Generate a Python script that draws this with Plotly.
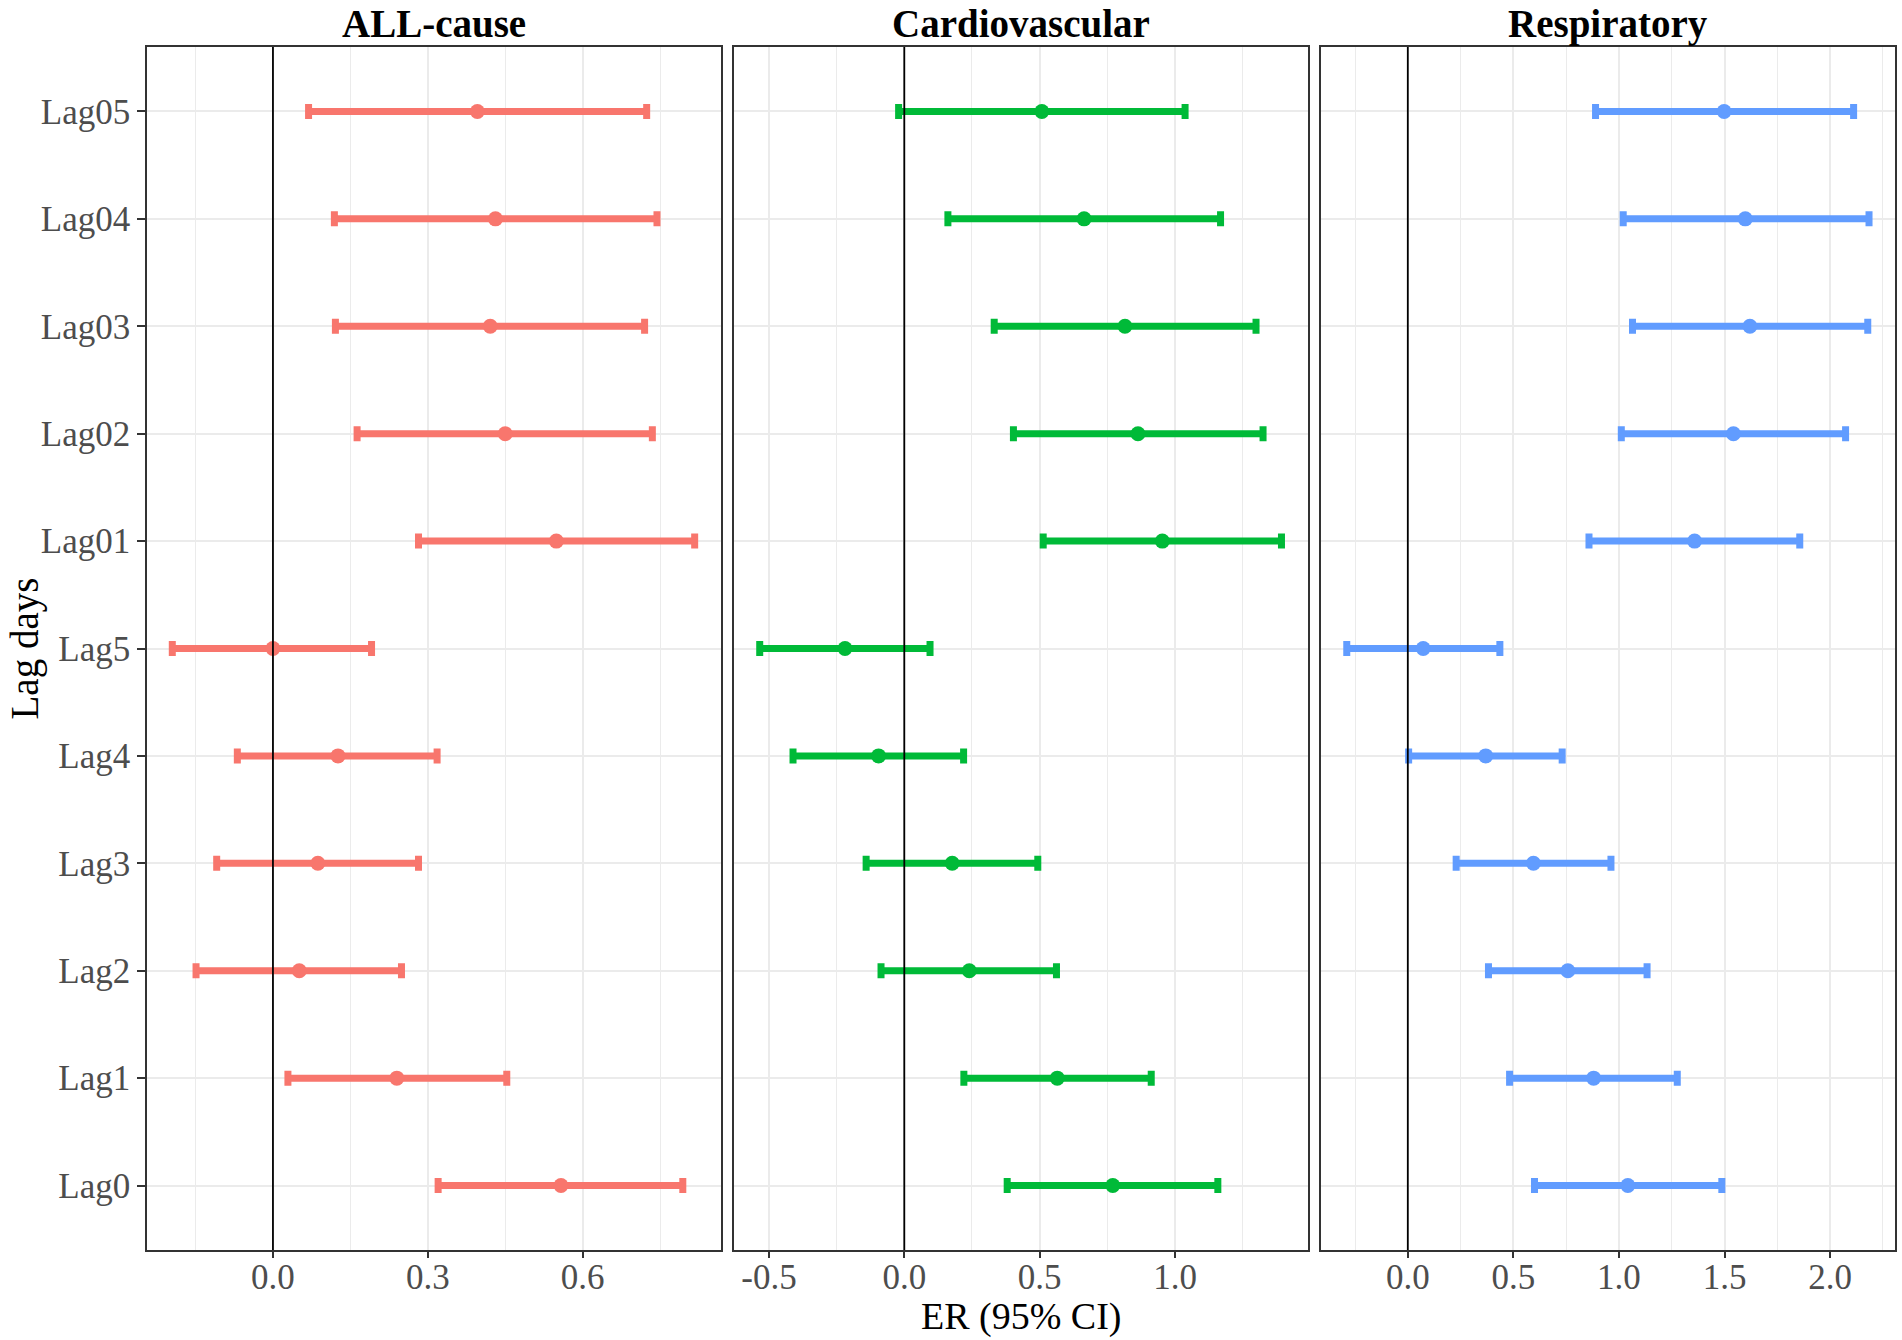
import plotly.graph_objects as go

W, H = 1902, 1340

lags = ["Lag0", "Lag1", "Lag2", "Lag3", "Lag4", "Lag5",
        "Lag01", "Lag02", "Lag03", "Lag04", "Lag05"]

panel_titles = ["ALL-cause", "Cardiovascular", "Respiratory"]
colors = ["#F8766D", "#00BA38", "#619CFF"]

# ALL-cause
all_er = [0.558, 0.240, 0.051, 0.087, 0.126, 0.000, 0.549, 0.450, 0.421, 0.431, 0.396]
all_lo = [0.320, 0.029, -0.149, -0.109, -0.069, -0.195, 0.282, 0.163, 0.121, 0.119, 0.069]
all_hi = [0.794, 0.453, 0.249, 0.282, 0.318, 0.191, 0.817, 0.735, 0.720, 0.744, 0.724]

# Cardiovascular
cvd_er = [0.770, 0.565, 0.240, 0.177, -0.095, -0.219, 0.953, 0.863, 0.815, 0.664, 0.508]
cvd_lo = [0.380, 0.220, -0.086, -0.141, -0.411, -0.534, 0.513, 0.403, 0.332, 0.161, -0.021]
cvd_hi = [1.158, 0.912, 0.562, 0.493, 0.219, 0.095, 1.393, 1.325, 1.299, 1.168, 1.037]

# Respiratory
res_er = [1.042, 0.880, 0.758, 0.595, 0.369, 0.073, 1.358, 1.542, 1.620, 1.598, 1.498]
res_lo = [0.600, 0.482, 0.382, 0.229, 0.004, -0.289, 0.858, 1.011, 1.064, 1.020, 0.889]
res_hi = [1.487, 1.276, 1.133, 0.962, 0.731, 0.436, 1.856, 2.073, 2.178, 2.184, 2.111]

x_ranges = [[-0.244, 0.868], [-0.629, 1.491], [-0.411, 2.307]]
major_ticks = [[0.0, 0.3, 0.6], [-0.5, 0.0, 0.5, 1.0], [0.0, 0.5, 1.0, 1.5, 2.0]]
major_labels = [["0.0", "0.3", "0.6"], ["-0.5", "0.0", "0.5", "1.0"],
                ["0.0", "0.5", "1.0", "1.5", "2.0"]]
minor_ticks = [[-0.15, 0.15, 0.45, 0.75], [-0.25, 0.25, 0.75, 1.25],
               [-0.25, 0.25, 0.75, 1.25, 1.75, 2.25]]

series = [(all_er, all_lo, all_hi), (cvd_er, cvd_lo, cvd_hi), (res_er, res_lo, res_hi)]

FONT = "Times New Roman, Liberation Serif, serif"
px_x = [(147, 721), (734, 1308), (1321, 1895)]
top_px, bot_px = 47, 1250
ydom = [1 - bot_px / H, 1 - top_px / H]

fig = go.Figure()
shapes = []
annotations = []
for i, (er, lo, hi) in enumerate(series):
    ax = "" if i == 0 else str(i + 1)
    fig.add_trace(go.Scatter(
        x=er, y=lags, mode="markers",
        xaxis="x" + ax, yaxis="y" + ax,
        marker=dict(size=15, color=colors[i]),
        error_x=dict(type="data", symmetric=False,
                     array=[h - e for h, e in zip(hi, er)],
                     arrayminus=[e - l for e, l in zip(er, lo)],
                     color=colors[i], thickness=7, width=7.5),
        showlegend=False, hoverinfo="skip",
    ))
    xd = [px_x[i][0] / W, px_x[i][1] / W]
    xaxis = dict(
        domain=xd, range=x_ranges[i], anchor="y" + ax,
        tickmode="array", tickvals=major_ticks[i], ticktext=major_labels[i],
        showgrid=True, gridcolor="#EBEBEB", gridwidth=1.7,
        minor=dict(tickmode="array", tickvals=minor_ticks[i], showgrid=True,
                   gridcolor="#EBEBEB", gridwidth=0.9, ticks=""),
        zeroline=False, showline=True, mirror=True, linecolor="#333333", linewidth=1.5,
        ticks="outside", ticklen=6, tickwidth=1.5, tickcolor="#333333",
        ticklabelstandoff=-11,
        tickfont=dict(family=FONT, size=35, color="#4D4D4D"),
        automargin=False, fixedrange=True,
    )
    yaxis = dict(
        domain=ydom, anchor="x" + ax, type="category",
        categoryorder="array", categoryarray=lags, range=[-0.6, 10.6],
        showgrid=True, gridcolor="#EBEBEB", gridwidth=1.7,
        zeroline=False, showline=True, mirror=True, linecolor="#333333", linewidth=1.5,
        ticks="outside" if i == 0 else "", ticklen=8, tickwidth=1.5, tickcolor="#333333",
        showticklabels=(i == 0),
        tickfont=dict(family=FONT, size=35, color="#4D4D4D"),
        automargin=False, fixedrange=True,
    )
    fig.update_layout(**{"xaxis" + ax: xaxis, "yaxis" + ax: yaxis})
    shapes.append(dict(type="line", xref="x" + ax, yref="y" + ax + " domain",
                       x0=0, x1=0, y0=0, y1=1, layer="above",
                       line=dict(color="black", width=1.8)))
    annotations.append(dict(text="<b>" + panel_titles[i] + "</b>", showarrow=False,
                            xref="paper", yref="paper",
                            x=(px_x[i][0] + px_x[i][1]) / 2 / W, y=1 - 23.5 / H,
                            xanchor="center", yanchor="middle",
                            font=dict(family=FONT, size=39, color="#000000")))

annotations.append(dict(text="ER (95% CI)", showarrow=False, xref="paper", yref="paper",
                        x=(px_x[1][0] + px_x[1][1]) / 2 / W, y=1 - 1316 / H,
                        xanchor="center", yanchor="middle",
                        font=dict(family=FONT, size=38, color="#000000")))
annotations.append(dict(text="Lag days", showarrow=False, xref="paper", yref="paper",
                        x=24 / W, y=1 - (top_px + bot_px) / 2 / H, textangle=-90,
                        xanchor="center", yanchor="middle",
                        font=dict(family=FONT, size=39, color="#000000")))

fig.update_layout(
    width=W, height=H, margin=dict(l=0, r=0, t=0, b=0),
    paper_bgcolor="white", plot_bgcolor="white",
    shapes=shapes, annotations=annotations,
    font=dict(family=FONT),
)

fig.write_html("out.html", config={"displayModeBar": False},
               post_script="document.body.style.margin='0';document.body.style.overflow='hidden';")
